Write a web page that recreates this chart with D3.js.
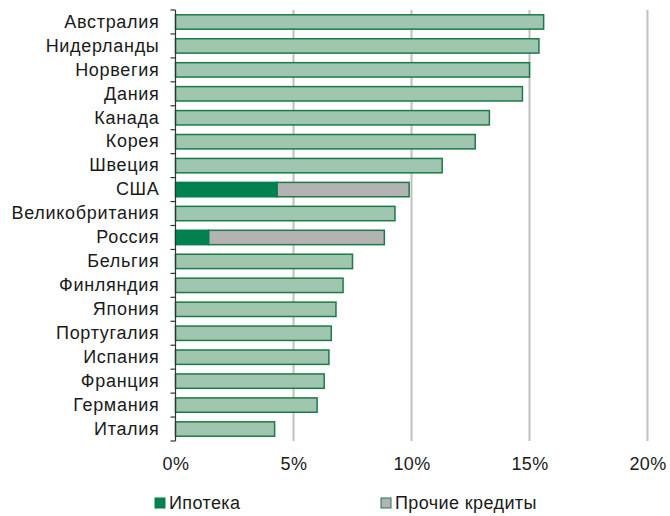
<!DOCTYPE html>
<html>
<head>
<meta charset="utf-8">
<script src="https://cdn.jsdelivr.net/npm/d3@7"></script>
<style>
  html, body { margin: 0; padding: 0; background: #fff; }
  svg { display: block; font-family: "Liberation Sans", Arial, sans-serif; }
</style>
</head>
<body>
<svg id="chart" width="670" height="516"></svg>
<script>
// Household debt by country, % (top to bottom)
const countries = ["Австралия", "Нидерланды", "Норвегия", "Дания", "Канада", "Корея", "Швеция",
  "США", "Великобритания", "Россия", "Бельгия", "Финляндия", "Япония", "Португалия",
  "Испания", "Франция", "Германия", "Италия"];

// Countries with a mortgage / other loans breakdown
const mortgage   = [null, null, null, null, null, null, null, 4.3, null, 1.4, null, null, null, null, null, null, null, null];
const otherLoans = [null, null, null, null, null, null, null, 5.6, null, 7.45, null, null, null, null, null, null, null, null];
// Countries shown only as a total
const totalDebt  = [15.6, 15.4, 15.0, 14.7, 13.3, 12.7, 11.3, null, 9.3, null, 7.5, 7.1, 6.8, 6.6, 6.5, 6.3, 6.0, 4.2];

const xTicks = [0, 5, 10, 15, 20];
const legendLabels = ["Ипотека", "Прочие кредиты"];

const colors = {
  mortgage: "#00814f",
  other: "#b3b3b3",
  total: "#a0c6b0",
  stroke: "#1b7a48",
  grid: "#bfbfbf",
  text: "#1a1a1a"
};
const fontSize = 18;

const svg = d3.select("#chart");

const x = d3.scaleLinear().domain([0, 20]).range([175.5, 647.5]);
const y = d3.scaleBand().domain(countries).range([10, 441]).paddingInner(0).paddingOuter(0);
const barH = y.bandwidth() * 0.6;
const barOff = (y.bandwidth() - barH) / 2;

// vertical gridlines
svg.append("g")
  .selectAll("line")
  .data(xTicks.filter(d => d > 0))
  .join("line")
  .attr("x1", d => x(d)).attr("x2", d => x(d))
  .attr("y1", 10).attr("y2", 441)
  .attr("stroke", colors.grid)
  .attr("stroke-width", 2);

// x tick labels
svg.append("g")
  .attr("transform", "translate(0,441)")
  .call(d3.axisBottom(x).tickValues(xTicks).tickFormat(d => d + "%").tickSize(0).tickPadding(16))
  .call(g => g.select(".domain").remove())
  .call(g => g.selectAll("text")
    .attr("font-size", fontSize)
    .attr("letter-spacing", 0.4)
    .attr("font-family", "'Liberation Sans', Arial, sans-serif")
    .attr("fill", colors.text));

const rows = countries.map((c, i) => ({
  c, m: mortgage[i], o: otherLoans[i], t: totalDebt[i]
}));

const bars = svg.append("g");

// total-only bars
bars.selectAll("rect.total")
  .data(rows.filter(r => r.t != null))
  .join("rect")
  .attr("class", "total")
  .attr("x", x(0))
  .attr("y", r => y(r.c) + barOff)
  .attr("width", r => x(r.t) - x(0))
  .attr("height", barH)
  .attr("fill", colors.total)
  .attr("stroke", colors.stroke)
  .attr("stroke-width", 1.5);

// stacked bars: other loans
const split = rows.filter(r => r.m != null);
bars.selectAll("rect.other")
  .data(split)
  .join("rect")
  .attr("class", "other")
  .attr("x", r => x(r.m))
  .attr("y", r => y(r.c) + barOff)
  .attr("width", r => x(r.m + r.o) - x(r.m))
  .attr("height", barH)
  .attr("fill", colors.other)
  .attr("stroke", colors.stroke)
  .attr("stroke-width", 1.5);

// stacked bars: mortgage
bars.selectAll("rect.mortgage")
  .data(split)
  .join("rect")
  .attr("class", "mortgage")
  .attr("x", x(0))
  .attr("y", r => y(r.c) + barOff)
  .attr("width", r => x(r.m) - x(0))
  .attr("height", barH)
  .attr("fill", colors.mortgage)
  .attr("stroke", colors.mortgage)
  .attr("stroke-width", 1.5);

// left axis: category labels
svg.append("g")
  .attr("transform", `translate(${x(0)},0)`)
  .call(d3.axisLeft(y).tickSize(0).tickPadding(16))
  .call(g => g.select(".domain").remove())
  .call(g => g.selectAll("text")
    .attr("font-size", fontSize)
    .attr("letter-spacing", 0.7)
    .attr("font-family", "'Liberation Sans', Arial, sans-serif")
    .attr("fill", colors.text));

// left axis line with ticks at category boundaries
const bounds = countries.map(c => y(c)).concat([y.range()[1]]);
const axisG = svg.append("g");
axisG.append("line")
  .attr("x1", x(0)).attr("x2", x(0))
  .attr("y1", 10).attr("y2", 441)
  .attr("stroke", "#333").attr("stroke-width", 1.2);
axisG.selectAll("line.tick")
  .data(bounds)
  .join("line")
  .attr("class", "tick")
  .attr("x1", x(0) - 5).attr("x2", x(0))
  .attr("y1", d => d).attr("y2", d => d)
  .attr("stroke", "#333").attr("stroke-width", 1.2);

// legend
const legend = svg.append("g");
const legendItems = [
  { label: legendLabels[0], fill: colors.mortgage, stroke: colors.mortgage, x: 155 },
  { label: legendLabels[1], fill: colors.other, stroke: colors.stroke, x: 381 }
];
const li = legend.selectAll("g")
  .data(legendItems)
  .join("g")
  .attr("transform", d => `translate(${d.x},498)`);
li.append("rect")
  .attr("width", 10).attr("height", 10)
  .attr("fill", d => d.fill)
  .attr("stroke", d => d.stroke)
  .attr("stroke-width", 1);
li.append("text")
  .attr("x", 14).attr("y", 11)
  .attr("font-size", fontSize)
  .attr("letter-spacing", 0.4)
  .attr("fill", colors.text)
  .text(d => d.label);
</script>
</body>
</html>
